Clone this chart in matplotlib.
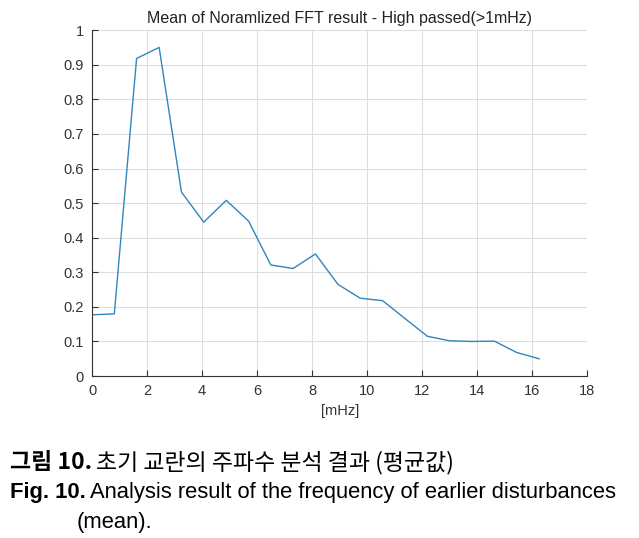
import numpy as np
import matplotlib.pyplot as plt

# mean of normalized FFT (high passed > 1 mHz)
freq = [0.0, 0.81, 1.62, 2.44, 3.25, 4.06, 4.88, 5.69, 6.5, 7.31, 8.12,
        8.94, 9.75, 10.56, 11.38, 12.19, 13.0, 13.81, 14.62, 15.44, 16.25]
amp = [0.177, 0.180, 0.918, 0.950, 0.532, 0.445, 0.508, 0.448, 0.321, 0.311, 0.353,
       0.265, 0.225, 0.218, 0.166, 0.115, 0.102, 0.100, 0.101, 0.068, 0.050]

xticks = [0, 2, 4, 6, 8, 10, 12, 14, 16, 18]
yticks = [0, 0.1, 0.2, 0.3, 0.4, 0.5, 0.6, 0.7, 0.8, 0.9, 1]
ytick_labels = ['0', '0.1', '0.2', '0.3', '0.4', '0.5', '0.6', '0.7', '0.8', '0.9', '1']

plt.rcParams['font.family'] = ['Liberation Sans', 'DejaVu Sans']

fig = plt.figure(figsize=(6.39, 5.38), dpi=100)
ax = fig.add_axes([0.144, 0.301, 0.775, 0.643])

ax.plot(freq, amp, color='#2f87bb', lw=1.0)
ax.set_xlim(0, 18)
ax.set_ylim(0, 1)
ax.set_xticks(xticks)
ax.set_yticks(yticks)
ax.set_yticklabels(ytick_labels)
ax.grid(True, color='#dedede', lw=0.8)
ax.set_axisbelow(True)
for s in ['top', 'right']:
    ax.spines[s].set_visible(False)
for s in ['left', 'bottom']:
    ax.spines[s].set_color('#333333')
    ax.spines[s].set_linewidth(0.8)
ax.tick_params(direction='in', length=4, colors='#333333', labelsize=10.5, pad=6)
ax.set_xlabel('[mHz]', fontsize=10.5, color='#333333', labelpad=4)
ax.set_title('Mean of Noramlized FFT result - High passed(>1mHz)', fontsize=11.5,
             color='#222222', pad=5)

# caption
kr = ['Noto Sans CJK KR', 'DejaVu Sans']
en = ['Liberation Sans Narrow', 'Liberation Sans', 'DejaVu Sans']
fig.canvas.draw()
r = fig.canvas.get_renderer()

def two_part(x, y, bold, rest, fam, size):
    t = fig.text(x, y, bold, fontsize=size, fontweight='bold', family=fam, va='baseline')
    bb = t.get_window_extent(renderer=r)
    x2 = bb.x1 / fig.bbox.width + 0.006
    fig.text(x2, y, rest, fontsize=size, family=fam, va='baseline')

two_part(0.016, 1 - 469 / 538, '그림 10.', '초기 교란의 주파수 분석 결과 (평균값)', kr, 16.5)
two_part(0.016, 1 - 498 / 538, 'Fig. 10.', 'Analysis result of the frequency of earlier disturbances',
         en, 15.8)
fig.text(77 / 639, 1 - 528 / 538, '(mean).', fontsize=15.8, family=en, va='baseline')

fig.savefig('out.png', dpi=100)
